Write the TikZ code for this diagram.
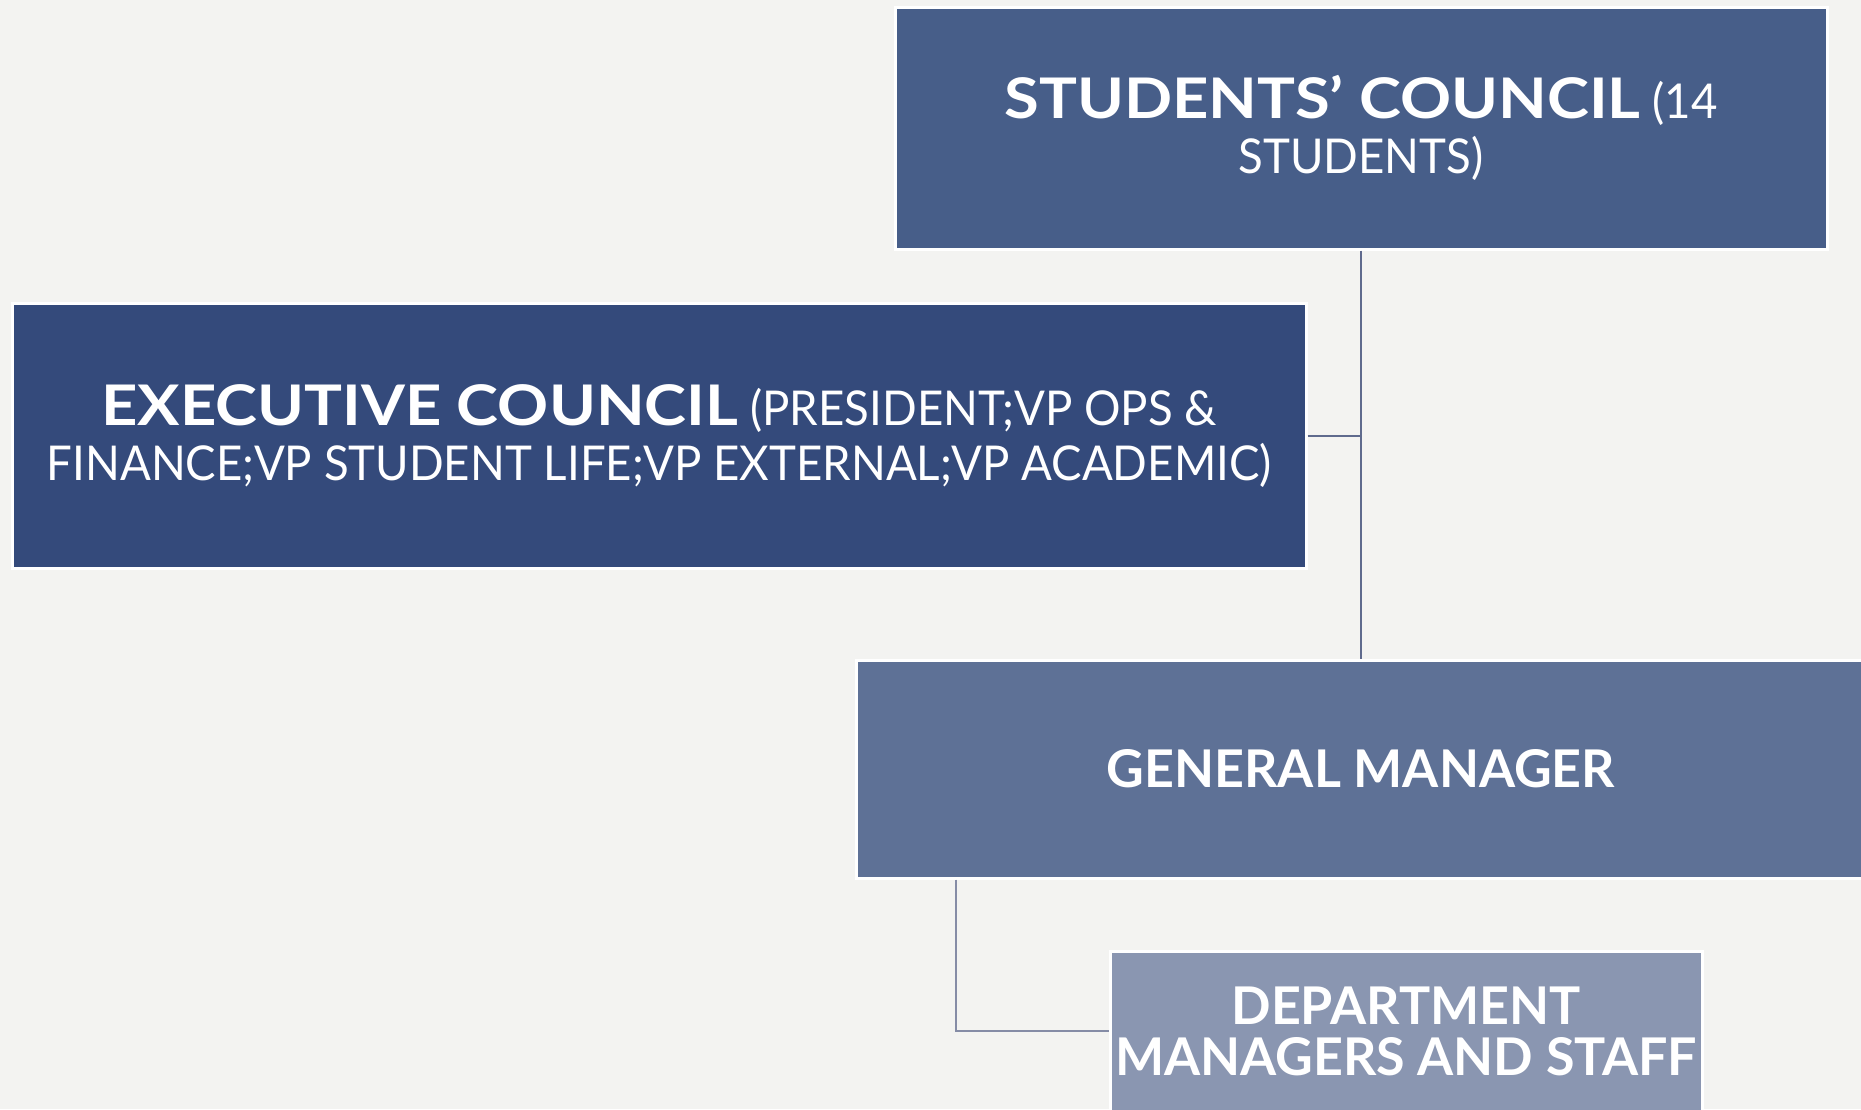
\documentclass[tikz,border=0pt]{standalone}
\usepackage{fontspec}
\setmainfont{Lato}
\newfontfamily\wideLato{Lato}[FakeStretch=1.13]
\newfontfamily\narrowLato{Lato}[FakeStretch=0.95]

\definecolor{pageGrey}{HTML}{F3F3F1}
\definecolor{councilBlue}{HTML}{475E89}
\definecolor{execBlue}{HTML}{344A7B}
\definecolor{managerBlue}{HTML}{5E7196}
\definecolor{staffBlue}{HTML}{8A96B1}
\definecolor{linkBlue}{HTML}{5F6A8D}
\definecolor{linkGrey}{HTML}{858CA6}

\tikzset{
	orgbox/.style={draw=white, line width=1.5pt, text=white, align=center, inner sep=0pt,
		font=\fontsize{24}{27.3}\selectfont},
	staffbox/.style={orgbox, font=\fontsize{26}{25.5}\selectfont\bfseries},
	orglink/.style={draw=linkBlue, line width=1.3pt}
}

\newcommand*{\boldpart}{\fontsize{28}{27.3}\selectfont\wideLato\bfseries}
\newcommand*{\plainpart}{\fontsize{24}{27.3}\selectfont\narrowLato}

\begin{document}
\begin{tikzpicture}[x=0.5pt,y=-0.5pt]

% page is 1861 x 1109 px
\def\pageW{1861}
\def\pageH{1109}

\fill [pageGrey] (0,0) rectangle (\pageW,\pageH);
\useasboundingbox (0,0) rectangle (\pageW,\pageH);
\clip (0,0) rectangle (\pageW,\pageH);

\node [orgbox, fill=councilBlue, minimum width=466pt, minimum height=121pt] (council) at (1361,128)
	{{\boldpart STUDENTS’ COUNCIL}\ {\plainpart (14}\\{\plainpart STUDENTS)}};

\node [orgbox, fill=execBlue, minimum width=647pt, minimum height=132.5pt] (exec) at (659,436)
	{{\boldpart EXECUTIVE COUNCIL}\ {\plainpart (PRESIDENT;VP OPS \&}\\{\plainpart FINANCE;VP STUDENT LIFE;VP EXTERNAL;VP ACADEMIC)}};

\node [staffbox, fill=managerBlue, minimum width=505pt, minimum height=109pt] (manager) at (1361,769)
	{GENERAL MANAGER};

\node [staffbox, fill=staffBlue, minimum width=296pt, minimum height=80pt] (staff) at (1406,1031)
	{DEPARTMENT\\MANAGERS AND STAFF};

\draw [orglink] (council.south) -- (manager.north);
\draw [orglink] (exec.east) -- (exec.east -| council.south);
\draw [orglink, draw=linkGrey] ([xshift=50.7pt]manager.south west) |- (staff.west);

\end{tikzpicture}
\end{document}
